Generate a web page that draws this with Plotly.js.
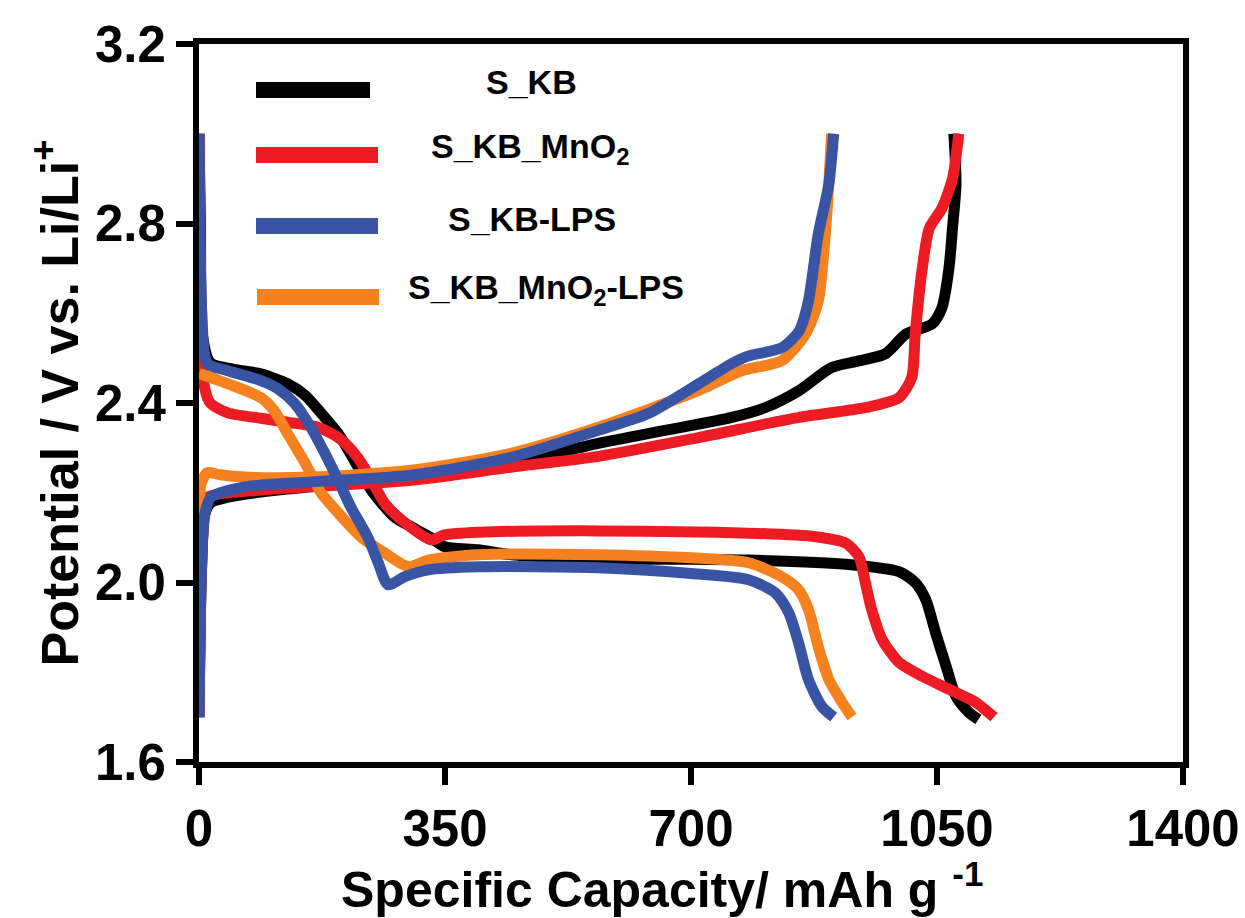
<!DOCTYPE html>
<html>
<head>
<meta charset="utf-8">
<script src="https://cdn.plot.ly/plotly-3.0.1.min.js"></script>
<style>
html,body{margin:0;padding:0;background:#fff;}
#chart{width:1245px;height:918px;}
</style>
</head>
<body>
<div id="chart"></div>
<script>
// ---- Data ----
const seriesNames = ["S_KB", "S_KB_MnO<sub>2</sub>", "S_KB-LPS", "S_KB_MnO<sub>2</sub>-LPS"];
const seriesColors = ["#000000", "#ED1C24", "#3A54A5", "#F5821F"];

// S_KB
const skbDisX = [0, 2, 5, 16, 50, 88, 126, 151, 174, 198, 221, 245, 278, 302, 330, 349, 397, 444, 568, 700, 782, 924, 996, 1019, 1034, 1048, 1063, 1077, 1095, 1109];
const skbDisY = [3.0, 2.8, 2.55, 2.49, 2.475, 2.465, 2.443, 2.417, 2.377, 2.332, 2.272, 2.206, 2.146, 2.124, 2.10, 2.08, 2.073, 2.062, 2.052, 2.052, 2.05, 2.04, 2.024, 2.0, 1.962, 1.888, 1.813, 1.746, 1.711, 1.695];
const skbChX = [0, 3, 8, 16, 41, 112, 184, 302, 444, 568, 663, 758, 806, 854, 900, 939, 977, 1006, 1043, 1057, 1067, 1072, 1077, 1074];
const skbChY = [1.7, 2.0, 2.15, 2.177, 2.19, 2.206, 2.217, 2.235, 2.266, 2.31, 2.339, 2.368, 2.39, 2.428, 2.479, 2.494, 2.51, 2.554, 2.576, 2.612, 2.70, 2.789, 2.887, 3.0];

// S_KB_MnO2
const mnoDisX = [0, 3, 8, 16, 41, 88, 126, 169, 198, 221, 240, 264, 293, 330, 349, 397, 568, 782, 877, 920, 939, 948, 957, 972, 996, 1029, 1067, 1105, 1131];
const mnoDisY = [3.0, 2.6, 2.434, 2.40, 2.378, 2.366, 2.357, 2.346, 2.323, 2.288, 2.244, 2.177, 2.133, 2.095, 2.106, 2.112, 2.115, 2.11, 2.102, 2.088, 2.057, 2.0, 1.94, 1.873, 1.822, 1.791, 1.762, 1.733, 1.70];
const mnoChX = [0, 3, 8, 12, 88, 302, 444, 568, 711, 854, 949, 996, 1014, 1019, 1029, 1039, 1057, 1072, 1081];
const mnoChY = [1.7, 2.0, 2.17, 2.19, 2.206, 2.228, 2.257, 2.281, 2.323, 2.368, 2.39, 2.412, 2.457, 2.554, 2.70, 2.789, 2.834, 2.90, 3.0];

// S_KB-LPS
const lpsDisX = [0, 4, 12, 41, 88, 112, 136, 159, 179, 198, 216, 240, 255, 269, 293, 326, 397, 568, 700, 782, 820, 839, 853, 867, 886, 903];
const lpsDisY = [3.0, 2.6, 2.488, 2.472, 2.45, 2.432, 2.399, 2.346, 2.288, 2.228, 2.168, 2.101, 2.044, 1.995, 2.013, 2.028, 2.035, 2.033, 2.02, 2.006, 1.977, 1.933, 1.866, 1.784, 1.724, 1.70];
const lpsChX = [0, 3, 8, 17, 65, 159, 302, 444, 568, 640, 711, 758, 782, 829, 854, 867, 881, 896, 903];
const lpsChY = [1.7, 2.0, 2.15, 2.19, 2.213, 2.224, 2.239, 2.279, 2.339, 2.377, 2.443, 2.488, 2.505, 2.523, 2.561, 2.627, 2.776, 2.887, 3.0];

// S_KB_MnO2-LPS
const mlpDisX = [0, 41, 88, 107, 126, 151, 174, 198, 231, 264, 298, 326, 397, 568, 700, 782, 829, 853, 867, 881, 896, 915, 929];
const mlpDisY = [2.466, 2.443, 2.412, 2.383, 2.332, 2.266, 2.199, 2.155, 2.101, 2.066, 2.035, 2.05, 2.062, 2.062, 2.055, 2.044, 2.013, 1.984, 1.94, 1.857, 1.784, 1.733, 1.70];
const mlpChX = [0, 3, 12, 30, 65, 159, 302, 444, 568, 711, 772, 829, 863, 881, 891, 896, 900];
const mlpChY = [2.12, 2.22, 2.245, 2.24, 2.235, 2.235, 2.25, 2.288, 2.346, 2.428, 2.472, 2.494, 2.554, 2.627, 2.776, 2.887, 3.0];

const xTickVals = [0, 350, 700, 1050, 1400];
const yTickVals = [1.6, 2.0, 2.4, 2.8, 3.2];
const xTitle = "Specific Capacity/ mAh g <sup>-1</sup>";
const yTitle = "Potential / V vs. Li/Li<sup>+</sup>";

// ---- Build ----
const curves = [
  [skbDisX, skbDisY, 0], [skbChX, skbChY, 0],
  [mnoDisX, mnoDisY, 1], [mnoChX, mnoChY, 1],
  [mlpDisX, mlpDisY, 3], [mlpChX, mlpChY, 3],
  [lpsDisX, lpsDisY, 2], [lpsChX, lpsChY, 2]
];
const traces = curves.map(c => ({
  x: c[0], y: c[1], type: 'scatter', mode: 'lines',
  name: seriesNames[c[2]].replace(/<\/?sub>/g, ''), showlegend: false,
  line: {color: seriesColors[c[2]], width: 11, shape: 'spline', smoothing: 0.7}
}));

const W = 1245, H = 918;
const M = {l: 199, r: 62, t: 44, b: 156};
const pw = W - M.l - M.r, ph = H - M.t - M.b;
const px2x = p => (p - M.l) / pw;
const py2y = p => (H - M.b - p) / ph;

const fontFam = 'Liberation Sans, Arial, sans-serif';

// legend (manual, matches the reference layout)
const legLines = [[256, 370, 90], [256, 378, 155], [256, 378, 226], [257, 379, 297]];
const legText = [[531, 82], [530, 148], [532, 219], [546, 289]];
const shapes = legLines.map((l, i) => ({
  type: 'line', xref: 'paper', yref: 'paper',
  x0: px2x(l[0]), x1: px2x(l[1]), y0: py2y(l[2]), y1: py2y(l[2]),
  line: {color: seriesColors[i], width: 16}
}));
const annotations = legText.map((t, i) => ({
  xref: 'paper', yref: 'paper', x: px2x(t[0]), y: py2y(t[1]),
  xanchor: 'center', yanchor: 'middle', showarrow: false,
  text: seriesNames[i],
  font: {family: fontFam, size: 34, color: '#000', weight: 'bold'}
}));
// x-axis title placed as in the reference
annotations.push({
  xref: 'paper', yref: 'paper', x: px2x(662), y: py2y(886),
  xanchor: 'center', yanchor: 'middle', showarrow: false,
  text: xTitle,
  font: {family: fontFam, size: 50, color: '#000', weight: 'bold'}
});

const axisCommon = {
  showline: true, linewidth: 6, linecolor: '#000', mirror: true,
  ticks: 'outside', ticklen: 17, tickwidth: 6, tickcolor: '#000',
  showgrid: false, zeroline: false,
  tickfont: {family: fontFam, size: 51, color: '#000', weight: 'bold'}
};

const layout = {
  width: W, height: H,
  margin: M,
  paper_bgcolor: '#fff', plot_bgcolor: '#fff',
  showlegend: false,
  xaxis: Object.assign({}, axisCommon, {
    range: [0, 1400], tickvals: xTickVals, ticktext: xTickVals.map(String)
  }),
  yaxis: Object.assign({}, axisCommon, {
    range: [1.6, 3.2], tickvals: yTickVals, ticktext: yTickVals.map(v => v.toFixed(1)),
    title: {text: yTitle, standoff: 2, font: {family: fontFam, size: 52, color: '#000', weight: 'bold'}}
  }),
  shapes: shapes,
  annotations: annotations
};

Plotly.newPlot('chart', traces, layout, {displayModeBar: false, staticPlot: true});
</script>
</body>
</html>
